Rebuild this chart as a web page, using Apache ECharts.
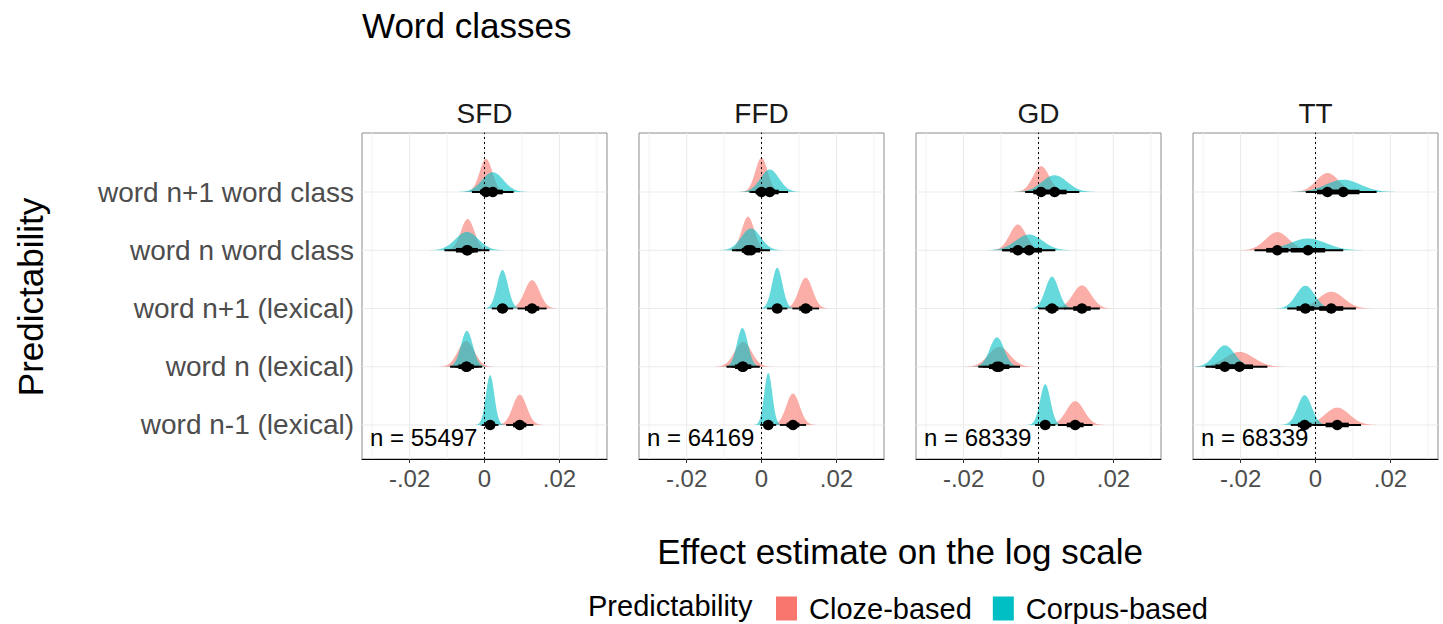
<!DOCTYPE html>
<html>
<head>
<meta charset="utf-8">
<script src="https://cdn.jsdelivr.net/npm/echarts@6/dist/echarts.min.js"></script>
<style>
  html, body { margin: 0; padding: 0; background: #ffffff; }
  #chart { width: 1443px; height: 624px; }
</style>
</head>
<body>
<div id="chart"></div>
<script>
// Facets (reading-time measures) and their sample sizes
const panels = ['SFD', 'FFD', 'GD', 'TT'];
const sampleSizes = ['n = 55497', 'n = 64169', 'n = 68339', 'n = 68339'];

// Predictors, listed top to bottom
const predictors = ['word n+1 word class', 'word n word class', 'word n+1 (lexical)', 'word n (lexical)', 'word n-1 (lexical)'];

const groups = ['Cloze-based', 'Corpus-based'];

// Axis ticks
const xTicks = [-0.02, 0, 0.02];
const xTickLabels = ['-.02', '0', '.02'];
const xMinorTicks = [-0.03, -0.01, 0.01, 0.03];

// Posterior medians per facet (rows follow `predictors`)
const clozeMedian = [
  [0.0004, -0.0045, 0.0127, -0.0049, 0.0094],
  [0.0000, -0.0036, 0.0118, -0.0049, 0.0084],
  [0.0007, -0.0055, 0.0116, -0.0105, 0.0098],
  [0.0032, -0.0102, 0.0042, -0.0203, 0.0058]
];
const corpusMedian = [
  [0.0022, -0.0047, 0.0048, -0.0047, 0.0015],
  [0.0022, -0.0028, 0.0042, -0.0051, 0.0018],
  [0.0043, -0.0025, 0.0036, -0.0111, 0.0018],
  [0.0074, -0.0020, -0.0027, -0.0242, -0.0029]
];

// Posterior standard deviations per facet
const clozeSd = [
  [0.00170, 0.00180, 0.00198, 0.00218, 0.00185],
  [0.00165, 0.00168, 0.00182, 0.00227, 0.00179],
  [0.00218, 0.00218, 0.00243, 0.00284, 0.00236],
  [0.00295, 0.00310, 0.00336, 0.00380, 0.00324]
];
const corpusSd = [
  [0.00284, 0.00306, 0.00146, 0.00157, 0.00113],
  [0.00250, 0.00258, 0.00138, 0.00145, 0.00108],
  [0.00336, 0.00357, 0.00177, 0.00191, 0.00138],
  [0.00455, 0.00480, 0.00247, 0.00263, 0.00189]
];

const FONT = '"Liberation Sans", Arial, Helvetica, sans-serif';
const X_MIN = -0.0327, X_MAX = 0.0327;
const Y_MIN = 0.416, Y_MAX = 6.013;
// density peak height (in rows) = slabHeightScale / sd, shared by all facets
const slabHeightScale = 0.000966;
const slabSpan = 3.6;
const fills = ['rgba(248,118,109,0.6)', 'rgba(0,191,196,0.6)'];
const solids = ['#F8766D', '#00BFC4'];

const GRID_LEFT = 362, GRID_STEP = 277, GRID_W = 245, GRID_TOP = 133, GRID_H = 326;

const rowY = i => predictors.length - i;

function slabRender(fill) {
  return function (params, api) {
    const mu = api.value(0), y = api.value(1), sd = api.value(2);
    const peak = slabHeightScale / sd;
    const pts = [api.coord([mu - slabSpan * sd, y])];
    const n = 90;
    for (let k = 0; k <= n; k++) {
      const z = -slabSpan + 2 * slabSpan * k / n;
      pts.push(api.coord([mu + z * sd, y + peak * Math.exp(-0.5 * z * z)]));
    }
    pts.push(api.coord([mu + slabSpan * sd, y]));
    return { type: 'polygon', shape: { points: pts }, style: { fill: fill, stroke: null } };
  };
}

function intervalRender(params, api) {
  const mu = api.value(0), y = api.value(1), sd = api.value(2);
  const a95 = api.coord([mu - 1.96 * sd, y]), b95 = api.coord([mu + 1.96 * sd, y]);
  const a66 = api.coord([mu - 0.954 * sd, y]), b66 = api.coord([mu + 0.954 * sd, y]);
  const c = api.coord([mu, y]);
  return {
    type: 'group',
    children: [
      { type: 'line', shape: { x1: a95[0], y1: a95[1], x2: b95[0], y2: b95[1] }, style: { stroke: '#000', lineWidth: 1.8 } },
      { type: 'line', shape: { x1: a66[0], y1: a66[1], x2: b66[0], y2: b66[1] }, style: { stroke: '#000', lineWidth: 4.6 } },
      { type: 'circle', shape: { cx: c[0], cy: c[1], r: 5.3 }, style: { fill: '#000' } }
    ]
  };
}

function vLineRender(color, width, dash) {
  return function (params, api) {
    const v = api.value(0);
    const a = api.coord([v, Y_MIN]), b = api.coord([v, Y_MAX]);
    return { type: 'line', shape: { x1: a[0], y1: a[1], x2: b[0], y2: b[1] }, style: { stroke: color, lineWidth: width, lineDash: dash } };
  };
}

function hLineRender(params, api) {
  const v = api.value(0);
  const a = api.coord([X_MIN, v]), b = api.coord([X_MAX, v]);
  return { type: 'line', shape: { x1: a[0], y1: a[1], x2: b[0], y2: b[1] }, style: { stroke: '#ebebeb', lineWidth: 1.1 } };
}

const grids = [], xAxes = [], yAxes = [], series = [], graphics = [];

panels.forEach((name, p) => {
  const left = GRID_LEFT + p * GRID_STEP;
  grids.push({ left: left, top: GRID_TOP, width: GRID_W, height: GRID_H, show: true, borderColor: '#8c8c8c', borderWidth: 1, backgroundColor: '#fff', containLabel: false, outerBoundsMode: 'none' });
  xAxes.push({
    type: 'value', gridIndex: p, min: X_MIN, max: X_MAX,
    axisLine: { show: true, lineStyle: { color: '#000', width: 1 } },
    axisTick: { show: true, customValues: xTicks, length: 4, lineStyle: { color: '#333' } },
    axisLabel: { customValues: xTicks, margin: 7, fontSize: 24, color: '#4d4d4d', fontFamily: FONT,
      formatter: v => { const i = xTicks.findIndex(t => Math.abs(t - v) < 1e-9); return i >= 0 ? xTickLabels[i] : ''; } },
    splitLine: { show: false }
  });
  yAxes.push({
    type: 'value', gridIndex: p, min: Y_MIN, max: Y_MAX,
    axisLine: { show: true, lineStyle: { color: '#000', width: 1 } },
    axisTick: { show: p === 0, customValues: [1, 2, 3, 4, 5], length: 4, lineStyle: { color: '#333' } },
    axisLabel: { show: p === 0, customValues: [1, 2, 3, 4, 5], margin: 8, fontSize: 28, color: '#4d4d4d', fontFamily: FONT,
      formatter: v => predictors[predictors.length - Math.round(v)] || '' },
    splitLine: { show: false }
  });

  const axisRef = { xAxisIndex: p, yAxisIndex: p };
  series.push(Object.assign({ type: 'custom', name: 'grid-minor', renderItem: vLineRender('#f2f2f2', 1, null), data: xMinorTicks.map(v => [v]), silent: true, z: 1 }, axisRef));
  series.push(Object.assign({ type: 'custom', name: 'grid-major', renderItem: vLineRender('#ebebeb', 1.1, null), data: xTicks.map(v => [v]), silent: true, z: 1 }, axisRef));
  series.push(Object.assign({ type: 'custom', name: 'grid-rows', renderItem: hLineRender, data: predictors.map((_, i) => [rowY(i)]), silent: true, z: 1 }, axisRef));

  [[clozeMedian, clozeSd], [corpusMedian, corpusSd]].forEach(([med, sd], g) => {
    series.push(Object.assign({
      type: 'custom', name: groups[g], clip: true, z: 2 + g,
      itemStyle: { color: solids[g] },
      renderItem: slabRender(fills[g]),
      data: predictors.map((_, i) => [med[p][i], rowY(i), sd[p][i]])
    }, axisRef));
  });

  series.push(Object.assign({ type: 'custom', name: 'zero', renderItem: vLineRender('#000', 1, [2, 3]), data: [[0]], silent: true, z: 4 }, axisRef));

  [[clozeMedian, clozeSd], [corpusMedian, corpusSd]].forEach(([med, sd], g) => {
    series.push(Object.assign({
      type: 'custom', name: 'interval-' + groups[g], z: 5,
      renderItem: intervalRender,
      data: predictors.map((_, i) => [med[p][i], rowY(i), sd[p][i]])
    }, axisRef));
  });

  // facet strip label and sample size
  graphics.push({ type: 'text', x: left + GRID_W / 2, y: 113, style: { text: name, fontSize: 28, fill: '#1a1a1a', fontFamily: FONT, align: 'center', verticalAlign: 'middle' } });
  graphics.push({ type: 'text', x: left + 8, y: 437, z: 10, style: { text: sampleSizes[p], fontSize: 24, fill: '#000', fontFamily: FONT, align: 'left', verticalAlign: 'middle' } });
});

graphics.push({ type: 'text', x: 362, y: 25, style: { text: 'Word classes', fontSize: 35, fill: '#000', fontFamily: FONT, align: 'left', verticalAlign: 'middle' } });
graphics.push({ type: 'text', x: 30, y: 297, rotation: Math.PI / 2, style: { text: 'Predictability', fontSize: 35, fill: '#000', fontFamily: FONT, align: 'center', verticalAlign: 'middle' } });
graphics.push({ type: 'text', x: 900, y: 551, style: { text: 'Effect estimate on the log scale', fontSize: 35, fill: '#000', fontFamily: FONT, align: 'center', verticalAlign: 'middle' } });
graphics.push({ type: 'text', x: 588, y: 606, style: { text: 'Predictability', fontSize: 29, fill: '#000', fontFamily: FONT, align: 'left', verticalAlign: 'middle' } });

const chart = echarts.init(document.getElementById('chart'), null, { renderer: 'svg' });
chart.setOption({
  animation: false,
  backgroundColor: '#ffffff',
  textStyle: { fontFamily: FONT },
  grid: grids,
  xAxis: xAxes,
  yAxis: yAxes,
  legend: {
    data: groups, left: 771, top: 589, itemWidth: 21, itemHeight: 24, itemGap: 21, icon: 'rect',
    selectedMode: false,
    textStyle: { fontSize: 29, color: '#000', fontFamily: FONT, padding: [0, 0, 0, 7] }
  },
  graphic: graphics,
  series: series
});
</script>
</body>
</html>
